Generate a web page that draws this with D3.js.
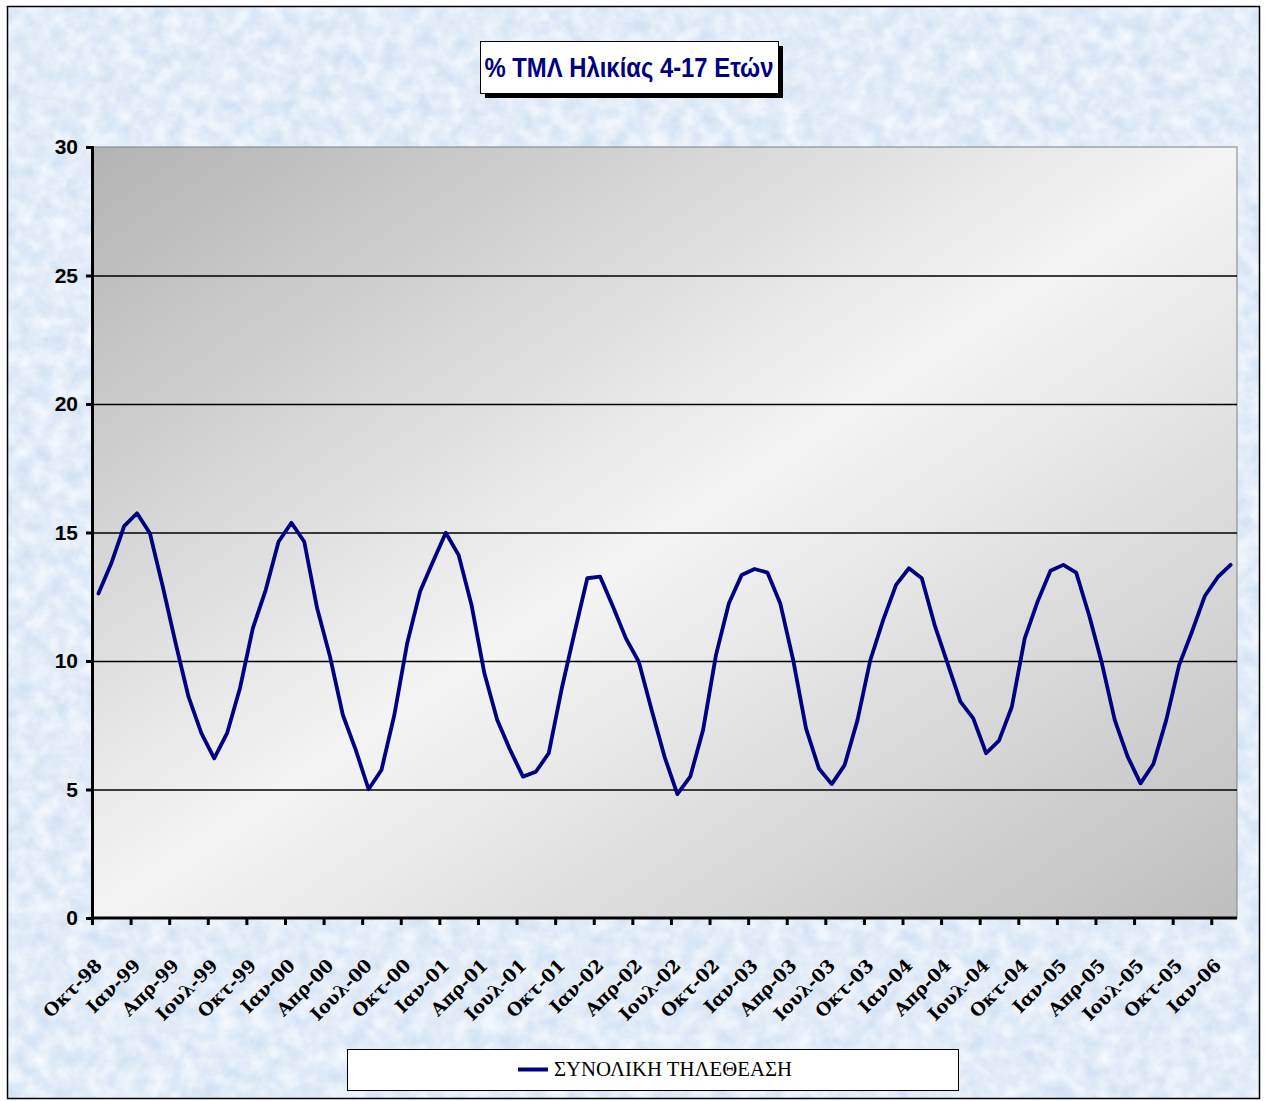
<!DOCTYPE html>
<html>
<head>
<meta charset="utf-8">
<script src="https://cdn.jsdelivr.net/npm/d3@7"></script>
<style>
  html, body { margin: 0; padding: 0; background: #ffffff; }
  svg { display: block; }
</style>
</head>
<body>
<svg id="chart" width="1267" height="1101"></svg>
<script>
// ---------------- DATA ----------------
const chartTitle = "% ΤΜΛ Ηλικίας 4-17 Ετών";
const seriesName = "ΣΥΝΟΛΙΚΗ ΤΗΛΕΘΕΑΣΗ";
const monthNames = ["Ιαν","Φεβ","Μαρ","Απρ","Μαϊ","Ιουν","Ιουλ","Αυγ","Σεπ","Οκτ","Νοε","Δεκ"];
// monthly categories Οκτ-98 ... Φεβ-06
const startMonth = 9, startYear = 1998, nCategories = 89;
const categories = d3.range(nCategories).map(i => {
  const m = (startMonth + i) % 12;
  const yr = startYear + Math.floor((startMonth + i) / 12);
  return monthNames[m] + "-" + String(yr % 100).padStart(2, "0");
});
const values = [
  12.63, 13.80, 15.25, 15.75, 14.97, 12.90, 10.69, 8.61, 7.19, 6.21,
  7.19, 8.94, 11.27, 12.76, 14.64, 15.38, 14.64, 12.05, 10.17, 7.90,
  6.54, 5.01, 5.76, 7.90, 10.69, 12.70, 13.86, 14.99, 14.12, 12.18,
  9.52, 7.70, 6.54, 5.50, 5.69, 6.41, 8.90, 11.09, 13.22, 13.28,
  12.11, 10.88, 9.97, 8.09, 6.28, 4.82, 5.50, 7.32, 10.23, 12.24,
  13.35, 13.58, 13.44, 12.24, 10.04, 7.38, 5.82, 5.21, 5.95, 7.70,
  10.04, 11.60, 12.96, 13.61, 13.22, 11.40, 9.91, 8.42, 7.77, 6.41,
  6.90, 8.22, 10.88, 12.31, 13.51, 13.74, 13.44, 11.79, 9.91, 7.70,
  6.28, 5.24, 5.99, 7.70, 9.84, 11.14, 12.53, 13.26, 13.74
];
const yTicks = [0, 5, 10, 15, 20, 25, 30];
const xLabelEvery = 3;
const tickLabels = ["Οκτ-98","Ιαν-99","Απρ-99","Ιουλ-99","Οκτ-99","Ιαν-00","Απρ-00","Ιουλ-00","Οκτ-00","Ιαν-01",
  "Απρ-01","Ιουλ-01","Οκτ-01","Ιαν-02","Απρ-02","Ιουλ-02","Οκτ-02","Ιαν-03","Απρ-03","Ιουλ-03",
  "Οκτ-03","Ιαν-04","Απρ-04","Ιουλ-04","Οκτ-04","Ιαν-05","Απρ-05","Ιουλ-05","Οκτ-05","Ιαν-06"];

// ---------------- LAYOUT ----------------
const W = 1267, H = 1101;
const plot = { left: 92, top: 147, right: 1237, bottom: 918 };
const lineColor = "#000080";

const svg = d3.select("#chart");
const defs = svg.append("defs");

// background texture
const f = defs.append("filter").attr("id", "tex").attr("x", 0).attr("y", 0).attr("width", "100%").attr("height", "100%");
f.append("feTurbulence").attr("type", "fractalNoise").attr("baseFrequency", "0.06").attr("numOctaves", 4).attr("seed", 7).attr("result", "n");
f.append("feColorMatrix").attr("in", "n").attr("type", "matrix")
  .attr("values", "0 0 0 0 1  0 0 0 0 1  0 0 0 0 1  1.2 0 0 0 -0.25");

const grad = defs.append("linearGradient").attr("id", "plotGrad")
  .attr("x1", 0).attr("y1", 0).attr("x2", 1).attr("y2", 1);
grad.append("stop").attr("offset", "0").attr("stop-color", "#b3b3b3");
grad.append("stop").attr("offset", "0.5").attr("stop-color", "#f4f4f4");
grad.append("stop").attr("offset", "1").attr("stop-color", "#bebebe");

svg.append("rect").attr("x", 0).attr("y", 0).attr("width", W).attr("height", H).attr("fill", "#ffffff");
svg.append("rect").attr("x", 7).attr("y", 6).attr("width", 1253).attr("height", 1093).attr("fill", "#d4e3f4");
svg.append("rect").attr("x", 7).attr("y", 6).attr("width", 1253).attr("height", 1093).attr("filter", "url(#tex)");
svg.append("rect").attr("x", 7.5).attr("y", 6.5).attr("width", 1252).attr("height", 1092)
  .attr("fill", "none").attr("stroke", "#000").attr("stroke-width", 1.5);

// scales
const xBand = d3.scaleBand().domain(d3.range(nCategories)).range([plot.left, plot.right]).padding(0);
const xEdge = d3.scaleLinear().domain([0, nCategories]).range([plot.left, plot.right]);
const y = d3.scaleLinear().domain([0, 30]).range([plot.bottom, plot.top]);

// plot area
svg.append("rect").attr("x", plot.left).attr("y", plot.top)
  .attr("width", plot.right - plot.left).attr("height", plot.bottom - plot.top)
  .attr("fill", "url(#plotGrad)").attr("stroke", "#808080").attr("stroke-width", 1);

// gridlines
const grid = svg.append("g").attr("transform", `translate(${plot.left},0)`)
  .call(d3.axisLeft(y).tickValues(yTicks.filter(v => v > 0 && v < 30)).tickSize(-(plot.right - plot.left)).tickFormat(""));
grid.select(".domain").remove();
grid.selectAll("line").attr("stroke", "#000").attr("stroke-width", 1.3);

// y axis
const yAxis = svg.append("g").attr("transform", `translate(${plot.left},0)`)
  .call(d3.axisLeft(y).tickValues(yTicks).tickSize(6).tickPadding(8));
yAxis.select(".domain").attr("stroke", "#000").attr("stroke-width", 3);
yAxis.selectAll(".tick line").attr("stroke", "#000").attr("stroke-width", 3);
yAxis.selectAll("text").attr("font-family", "'Liberation Sans', Arial, sans-serif")
  .attr("font-weight", "bold").attr("font-size", 21).attr("fill", "#000");

// x axis ticks (at category boundaries)
const xTickAxis = svg.append("g").attr("transform", `translate(0,${plot.bottom})`)
  .call(d3.axisBottom(xEdge).tickValues(d3.range(0, nCategories, xLabelEvery)).tickSize(7).tickFormat(""));
xTickAxis.select(".domain").attr("stroke", "#000").attr("stroke-width", 3).attr("d", `M${plot.left},0H${plot.right}`);
xTickAxis.selectAll(".tick line").attr("stroke", "#000").attr("stroke-width", 3);

// x labels (at category centers)
const labelIdx = d3.range(0, nCategories, xLabelEvery);
const xLabAxis = svg.append("g").attr("transform", `translate(0,${plot.bottom})`)
  .call(d3.axisBottom(xBand).tickValues(labelIdx).tickSize(0).tickFormat((d, i) => tickLabels[i]));
xLabAxis.select(".domain").remove();
xLabAxis.selectAll("text")
  .attr("font-family", "'DejaVu Serif', serif")
  .attr("font-weight", "bold").attr("font-size", 18).attr("fill", "#000")
  .attr("text-anchor", "end").attr("dominant-baseline", "central")
  .attr("dy", null).attr("y", 0)
  .attr("transform", "translate(0,44) rotate(-45)");

// line
const line = d3.line().x((d, i) => xBand(i) + xBand.bandwidth() / 2).y(d => y(d));
svg.append("path").datum(values).attr("d", line)
  .attr("fill", "none").attr("stroke", lineColor).attr("stroke-width", 3.8)
  .attr("stroke-linejoin", "round").attr("stroke-linecap", "round");

// title box
const tb = { x: 480, y: 41, w: 298, h: 52 };
svg.append("rect").attr("x", tb.x + 5).attr("y", tb.y + 5).attr("width", tb.w).attr("height", tb.h).attr("fill", "#000");
svg.append("rect").attr("x", tb.x + 0.5).attr("y", tb.y + 0.5).attr("width", tb.w).attr("height", tb.h)
  .attr("fill", "#fff").attr("stroke", "#000").attr("stroke-width", 1);
svg.append("text").attr("x", tb.x + tb.w / 2).attr("y", tb.y + 36)
  .attr("text-anchor", "middle")
  .attr("font-family", "'Liberation Sans', Arial, sans-serif").attr("font-weight", "bold")
  .attr("font-size", 28).attr("fill", lineColor)
  .attr("textLength", 289).attr("lengthAdjust", "spacingAndGlyphs")
  .text(chartTitle);

// legend
const lg = { x: 347, y: 1049, w: 611, h: 41 };
svg.append("rect").attr("x", lg.x + 0.5).attr("y", lg.y + 0.5).attr("width", lg.w).attr("height", lg.h)
  .attr("fill", "#fff").attr("stroke", "#000").attr("stroke-width", 1);
svg.append("line").attr("x1", 518).attr("x2", 548).attr("y1", lg.y + 20.5).attr("y2", lg.y + 20.5)
  .attr("stroke", lineColor).attr("stroke-width", 4);
svg.append("text").attr("x", 554).attr("y", lg.y + 27)
  .attr("font-family", "'Liberation Serif', 'Times New Roman', serif")
  .attr("font-size", 21).attr("fill", "#000")
  .attr("textLength", 238).attr("lengthAdjust", "spacingAndGlyphs")
  .text(seriesName);
</script>
</body>
</html>
